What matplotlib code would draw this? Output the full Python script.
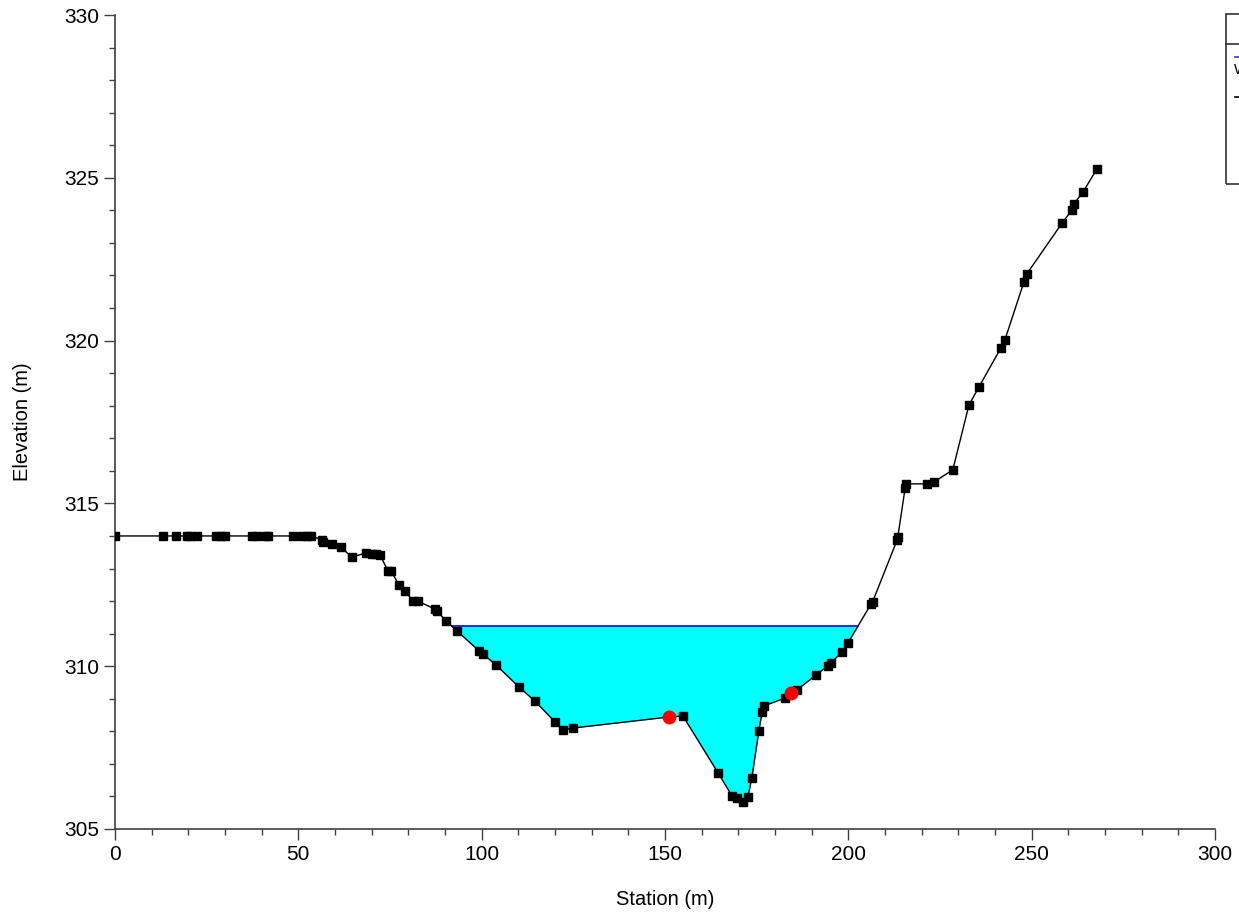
import numpy as np
import matplotlib.pyplot as plt
from matplotlib.ticker import MultipleLocator
from matplotlib.patches import Rectangle
from matplotlib.lines import Line2D

plt.rcParams['font.family'] = ['Liberation Sans', 'DejaVu Sans']

# ground survey points: station (m), elevation (m)
station = [0.0, 13.1, 16.6, 19.6, 20.5, 22.4, 27.5, 29.0, 30.0, 37.4, 38.7, 41.2, 41.7,
           48.5, 51.0, 52.5, 53.5, 56.5, 56.7, 59.2, 61.6, 64.6, 68.5, 70.1, 71.3, 72.3,
           74.5, 75.3, 77.5, 79.1, 81.3, 82.6, 87.3, 87.8, 90.3, 93.3, 99.3, 100.4, 103.9,
           110.2, 114.5, 120.0, 122.2, 124.9, 151.1, 154.9, 164.5, 168.3, 169.6, 171.3,
           172.6, 173.7, 175.6, 176.5, 177.0, 182.7, 184.4, 186.0, 191.2, 194.5, 195.3,
           198.3, 199.9, 206.2, 206.6, 213.3, 213.5, 215.5, 215.7, 221.5, 223.4, 228.5,
           232.9, 235.6, 241.6, 242.7, 247.9, 248.7, 258.3, 261.0, 261.5, 264.0, 267.8]
elevation = [314.0, 314.0, 314.0, 314.0, 314.0, 314.0, 314.0, 314.0, 314.0, 314.0, 314.0,
             314.0, 314.0, 314.0, 314.0, 314.0, 314.0, 313.88, 313.8, 313.75, 313.66,
             313.35, 313.48, 313.46, 313.44, 313.41, 312.92, 312.92, 312.49, 312.31,
             312.0, 312.0, 311.75, 311.7, 311.39, 311.08, 310.47, 310.37, 310.04, 309.36,
             308.93, 308.29, 308.04, 308.1, 308.44, 308.47, 306.72, 306.01, 305.95,
             305.83, 305.98, 306.57, 308.01, 308.59, 308.78, 309.02, 309.18, 309.27,
             309.73, 310.02, 310.1, 310.44, 310.71, 311.91, 311.97, 313.87, 313.97,
             315.47, 315.6, 315.6, 315.66, 316.03, 318.02, 318.57, 319.77, 320.02,
             321.8, 322.05, 323.61, 324.01, 324.2, 324.56, 325.27]

# water surface and bank stations
ws_elev = 311.22
bank_sta = [151.1, 184.4]
bank_elev = [308.44, 309.18]

x = np.array(station)
z = np.array(elevation)

fig = plt.figure(figsize=(12.39, 9.15), dpi=100)
ax = fig.add_axes([0.0928, 0.094, 0.8878, 0.8896])

# water extent: where the ground crosses the water surface
wet = z < ws_elev
i0 = np.argmax(wet)
i1 = len(wet) - 1 - np.argmax(wet[::-1])
xl = np.interp(ws_elev, [z[i0], z[i0 - 1]], [x[i0], x[i0 - 1]])
xr = np.interp(ws_elev, [z[i1], z[i1 + 1]], [x[i1], x[i1 + 1]])
xf = np.concatenate([[xl], x[i0:i1 + 1], [xr]])
zf = np.concatenate([[ws_elev], z[i0:i1 + 1], [ws_elev]])
ax.fill_between(xf, zf, ws_elev, color='#00ffff', lw=0, zorder=1)
ax.plot([xl, xr], [ws_elev, ws_elev], color='#0000ff', lw=1.2, zorder=2)

ax.plot(x, z, color='black', lw=1.0, marker='s', markersize=6.3,
        markerfacecolor='black', markeredgecolor='black', zorder=3)
ax.plot(bank_sta, bank_elev, 'o', color='#ff0000', markersize=9, zorder=4)

ax.set_xlim(0, 300)
ax.set_ylim(305, 330)
ax.set_xticks([0, 50, 100, 150, 200, 250, 300])
ax.set_yticks([305, 310, 315, 320, 325, 330])
ax.xaxis.set_minor_locator(MultipleLocator(10))
ax.yaxis.set_minor_locator(MultipleLocator(1))
ax.tick_params(which='major', direction='out', length=8, width=1, colors='#404040',
               labelcolor='black', labelsize=15)
ax.tick_params(which='minor', direction='out', length=4, width=1, colors='#404040')
for s in ['top', 'right']:
    ax.spines[s].set_visible(False)
for s in ['left', 'bottom']:
    ax.spines[s].set_color('#404040')
    ax.spines[s].set_linewidth(1.2)

ax.set_xlabel('Station (m)', fontsize=14.5, labelpad=19)
ax.set_ylabel('Elevation (m)', fontsize=14.5, labelpad=23)

# legend box, mostly outside the right edge of the figure
W, H = 1239.0, 915.0
fig.patches.append(Rectangle((1226 / W, 1 - 184 / H), 60 / W, 170 / H,
                             transform=fig.transFigure, fill=False,
                             edgecolor='#303030', lw=1.2))
fig.lines.append(Line2D([1226 / W, 1.0], [1 - 44 / H, 1 - 44 / H],
                        transform=fig.transFigure, color='#303030', lw=1.2))
fig.lines.append(Line2D([1235 / W, 1.0], [1 - 57 / H, 1 - 57 / H],
                        transform=fig.transFigure, color='#3030ff', lw=1.2))
fig.text(1234 / W, 1 - 70 / H, 'WS PF 1', fontsize=10.5, va='center', ha='left')
fig.lines.append(Line2D([1235 / W, 1.0], [1 - 97 / H, 1 - 97 / H],
                        transform=fig.transFigure, color='black', lw=1.2))

fig.savefig('out.png', dpi=100)
